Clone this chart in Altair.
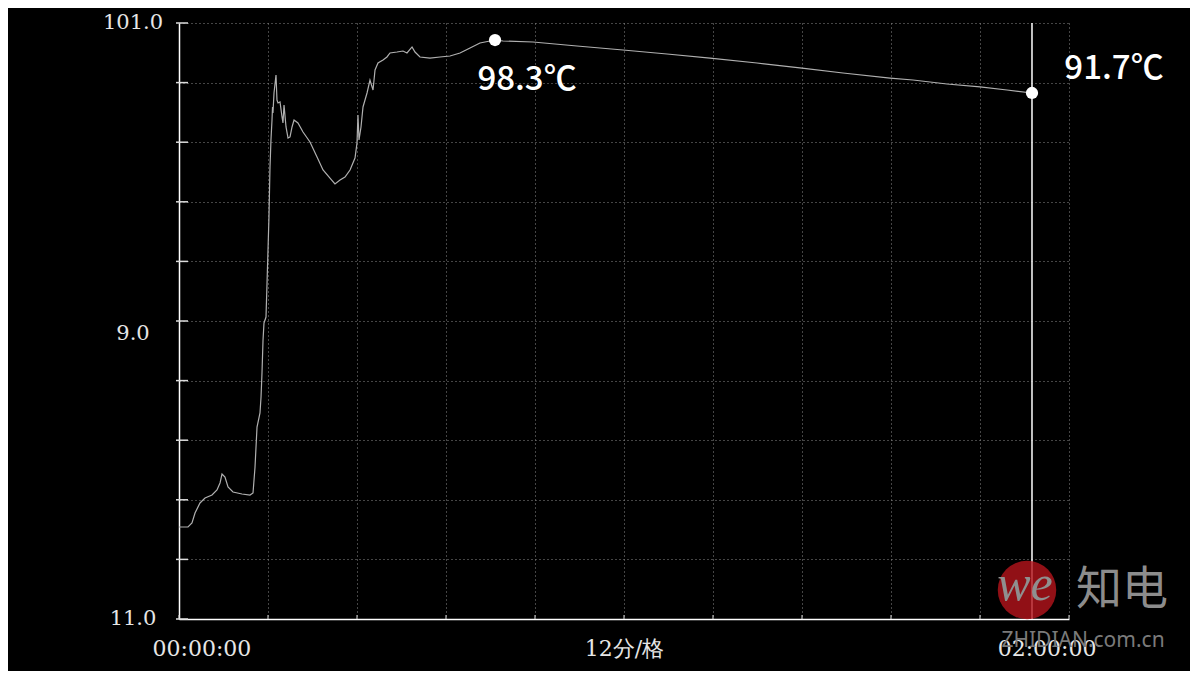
import altair as alt
import pandas as pd

# ---- data (minutes, degrees) ----
time_min = [0.00, 1.21, 1.75, 2.16, 2.83, 3.51, 4.45, 5.12, 5.53, 5.80, 6.20, 6.61, 7.28, 8.49,
            9.57, 9.98, 10.25, 10.52, 10.92, 11.06, 11.19, 11.33, 11.46, 11.73, 11.87, 12.00,
            12.13, 12.27, 12.40, 12.54, 12.61, 12.67, 12.81, 13.08, 13.21, 13.35, 13.62, 13.89,
            14.02, 14.16, 14.43, 14.70, 14.97, 15.24, 15.51, 16.04, 16.72, 17.66, 18.61, 19.42,
            20.36, 21.03, 21.71, 22.38, 23.06, 23.73, 24.00, 24.13, 24.27, 24.54, 24.81, 25.35,
            25.75, 26.16, 26.43, 26.83, 27.51, 28.04, 28.45, 29.39, 30.20, 30.74, 31.42, 31.82,
            32.49, 33.84, 35.19, 36.54, 37.89, 39.24, 40.58, 41.93, 42.61, 43.69, 47.73, 53.66,
            59.87, 65.80, 71.60, 77.93, 84.00, 89.53, 95.87, 98.97, 103.55, 108.00, 111.64, 115.01]
temp_c = [24.89, 24.89, 25.50, 27.01, 28.52, 29.27, 29.72, 30.48, 31.54, 32.90, 32.44, 30.93,
          30.18, 29.88, 29.72, 30.03, 33.95, 39.99, 42.11, 44.52, 48.15, 53.13, 55.70, 56.60,
          61.74, 66.72, 71.70, 79.26, 83.33, 86.35, 88.32, 87.41, 90.43, 93.15, 89.37, 88.92,
          89.07, 86.81, 85.90, 88.62, 85.30, 83.63, 83.79, 85.30, 86.35, 85.90, 84.54, 83.03,
          80.77, 78.80, 77.59, 76.69, 77.29, 77.74, 78.80, 80.61, 82.88, 87.11, 83.33, 85.30,
          88.32, 90.43, 92.39, 90.88, 93.90, 94.96, 95.41, 95.87, 96.47, 96.62, 96.77, 96.47,
          97.38, 96.62, 95.87, 95.71, 95.87, 96.02, 96.47, 97.22, 97.98, 98.28, 98.43, 98.28,
          98.13, 97.53, 96.92, 96.32, 95.71, 94.96, 94.20, 93.45, 92.69, 92.39, 91.79, 91.34,
          90.88, 90.43]

grid_time = [0, 12, 24, 36, 48, 60, 72, 84, 96, 108, 120]
grid_temp = [11, 20, 29, 38, 47, 56, 65, 74, 83, 92, 101]

x_label_values = [0, 60, 120]
x_label_text = ["00:00:00", "12分/格", "02:00:00"]

y_label_values = [101, 11]
y_label_text = ["101.0", "11.0"]
y_mid_value = [56]
y_mid_text = ["9.0"]

marker_time = [42.61, 115.01]
marker_temp = [98.43, 90.43]
marker_text = ["98.3℃", "91.7℃"]
cursor_time = [115.01]

wm_title = ["知电"]
wm_site = ["ZHIDIAN.com.cn"]
wm_logo = ["we"]

# ---- chart ----
W, H = 890, 596
LABEL_COLOR = "#e6e6e6"
GRID_COLOR = "#8a8a8a"

xs = alt.Scale(domain=[0, 120], nice=False, zero=False)
ys = alt.Scale(domain=[11, 101], nice=False, zero=False)

label_expr = " : ".join(
    f"datum.value == {v} ? '{t}'" for v, t in zip(x_label_values, x_label_text)
) + " : ''"

x_axis = alt.Axis(values=grid_time, labelExpr=label_expr, title=None, grid=True,
                  gridColor=GRID_COLOR, gridDash=[1, 3], gridWidth=1, ticks=False,
                  domainColor="#ffffff", domainWidth=1.5, labelFont="DejaVu Serif",
                  labelFontSize=22, labelColor=LABEL_COLOR, labelFlush=True,
                  labelFlushOffset=27, labelPadding=29, labelBaseline="middle",
                  labelOverlap=False)
y_axis = alt.Axis(values=grid_temp, labels=False, title=None, grid=True,
                  gridColor=GRID_COLOR, gridDash=[1, 3], gridWidth=1, ticks=False,
                  domainColor="#ffffff", domainWidth=1.5)

X = alt.X("t:Q", scale=xs, axis=x_axis)
Y = alt.Y("v:Q", scale=ys, axis=y_axis)

curve_df = pd.DataFrame({"t": time_min, "v": temp_c})
curve = alt.Chart(curve_df).mark_line(color="#b0b0b0", strokeWidth=1.2).encode(x=X, y=Y)

left_ticks = alt.Chart(pd.DataFrame({"v": grid_temp})).mark_rule(
    color="#dcdcdc", strokeWidth=1.5).encode(y=Y, x=alt.value(-3), x2=alt.value(9))
bottom_ticks = alt.Chart(pd.DataFrame({"t": grid_time})).mark_rule(
    color="#dcdcdc", strokeWidth=1).encode(x=X, y=alt.value(H - 4), y2=alt.value(H))

y_labels = alt.Chart(pd.DataFrame({"v": y_label_values, "lab": y_label_text})).mark_text(
    align="center", baseline="middle", font="DejaVu Serif", fontSize=21, color=LABEL_COLOR
).encode(y=Y, x=alt.value(-46), text="lab:N")
y_mid = alt.Chart(pd.DataFrame({"v": y_mid_value, "lab": y_mid_text})).mark_text(
    align="center", baseline="middle", font="DejaVu Serif", fontSize=21, color=LABEL_COLOR,
    dy=13
).encode(y=Y, x=alt.value(-46), text="lab:N")

cursor = alt.Chart(pd.DataFrame({"t": cursor_time})).mark_rule(
    color="#ffffff", strokeWidth=1.5).encode(x=X)

mk_df = pd.DataFrame({"t": marker_time, "v": marker_temp, "lab": marker_text})
markers = alt.Chart(mk_df).mark_circle(size=150, color="#ffffff", opacity=1).encode(x=X, y=Y)
lab1 = alt.Chart(mk_df.iloc[[0]]).mark_text(
    align="center", baseline="middle", font="Noto Sans CJK SC", fontSize=33,
    fontWeight=500, color="#ffffff", dx=32, dy=40).encode(x=X, y=Y, text="lab:N")
lab2 = alt.Chart(mk_df.iloc[[1]]).mark_text(
    align="center", baseline="middle", font="Noto Sans CJK SC", fontSize=33,
    fontWeight=500, color="#ffffff", dx=82, dy=-24).encode(x=X, y=Y, text="lab:N")

one = pd.DataFrame({"k": [0]})
wm_circle = alt.Chart(one).mark_circle(size=3420, color="#b5141c", opacity=0.8).encode(
    x=alt.value(848), y=alt.value(567))
wm_we = alt.Chart(pd.DataFrame({"lab": wm_logo})).mark_text(
    font="Liberation Serif", fontStyle="italic", fontSize=50, color="#8f8f8f",
    align="center", baseline="middle").encode(x=alt.value(846), y=alt.value(562), text="lab:N")
wm_t = alt.Chart(pd.DataFrame({"lab": wm_title})).mark_text(
    font="Noto Sans CJK SC", fontSize=46, color="#8c8c8c", align="center",
    baseline="middle").encode(x=alt.value(943), y=alt.value(567), text="lab:N")
wm_s = alt.Chart(pd.DataFrame({"lab": wm_site})).mark_text(
    font="Noto Sans", fontSize=21, color="#7a7a7a", align="center",
    baseline="middle").encode(x=alt.value(904), y=alt.value(618), text="lab:N")

chart = alt.layer(
    curve, left_ticks, bottom_ticks, y_labels, y_mid, cursor, markers, lab1, lab2,
    wm_circle, wm_we, wm_t, wm_s
).properties(
    width=W, height=H,
    autosize=alt.AutoSizeParams(type="none"),
    padding={"left": 171, "top": 15, "right": 121, "bottom": 52},
).configure(background="#000000").configure_view(stroke=None)

chart.save("out.html", embed_options={"renderer": "svg", "actions": False})
